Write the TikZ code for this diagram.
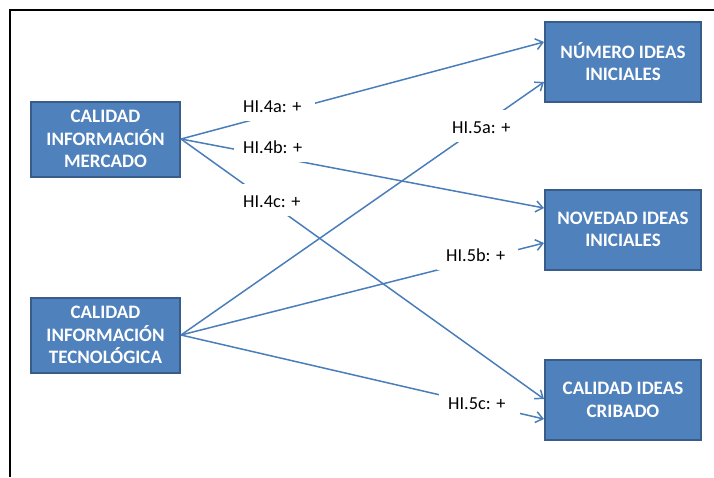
\documentclass[tikz,border=0pt]{standalone}
\usepackage{fontspec}
\setmainfont{Carlito}
\usetikzlibrary{arrows.meta,calc}
\definecolor{boxfill}{HTML}{4F81BD}
\definecolor{boxline}{HTML}{385D8A}
\definecolor{connblue}{HTML}{4A7EBB}

\newcommand{\hyptext}[1]{\makebox[63pt][l]{#1}}

\begin{document}
\begin{tikzpicture}[x=1pt,y=-1pt,
  varbox/.style={draw=boxline, line width=2pt, fill=boxfill, text=white,
    font=\fontsize{19}{22.5}\selectfont\bfseries, align=center, inner sep=0pt},
  leftbox/.style={varbox, minimum width=149pt, minimum height=75pt},
  rightbox/.style={varbox, minimum width=156pt, minimum height=80pt},
  conn/.style={draw=connblue, line width=1.5pt,
    -{Straight Barb[length=7pt,width=11pt,line width=1.5pt]}},
  hyp/.style={fill=white, anchor=base west, inner xsep=9pt, inner ysep=0pt,
    text height=23pt, text depth=9pt,
    font=\fontsize{18.3}{22}\selectfont},
]
\useasboundingbox (0,0) rectangle (714,477);

% frame lines
\draw[line width=2pt] (9,10) -- (714,10);
\draw[line width=2pt] (10,9) -- (10,477);

% variables
\node[leftbox]  (merc) at (105.5,139) {CALIDAD\\INFORMACIÓN\\MERCADO};
\node[leftbox]  (tec)  at (105.5,335) {CALIDAD\\INFORMACIÓN\\TECNOLÓGICA};
\node[rightbox] (num)  at (623,61.5)  {NÚMERO IDEAS\\INICIALES};
\node[rightbox] (nov)  at (623,229.5) {NOVEDAD IDEAS\\INICIALES};
\node[rightbox] (crib) at (623,400)   {CALIDAD IDEAS\\CRIBADO};

% hypothesised effects
\draw[conn] (merc.east) -- ($(num.west)+(0,-19.5)$);
\draw[conn] (merc.east) -- ($(nov.west)+(0,-21.5)$);
\draw[conn] (merc.east) -- ($(crib.west)+(0,-1)$);
\draw[conn] (tec.east)  -- ($(num.west)+(0,20.5)$);
\draw[conn] (tec.east)  -- ($(nov.west)+(0,13.5)$);
\draw[conn] (tec.east)  -- ($(crib.west)+(0,19)$);

% hypothesis labels
\node[hyp] (h4a) at (234,112) {\hyptext{HI.4a: +}};
\node[hyp] (h4b) at (234,153) {\hyptext{HI.4b: +}};
\node[hyp] (h4c) at (234,207) {\hyptext{HI.4c: +}};
\node[hyp] (h5a) at (443,133) {\hyptext{HI.5a: +}};
\node[hyp] (h5b) at (437,261) {\hyptext{HI.5b: +}};
\node[hyp] (h5c) at (439,409) {\hyptext{HI.5c: +}};
\end{tikzpicture}
\end{document}
